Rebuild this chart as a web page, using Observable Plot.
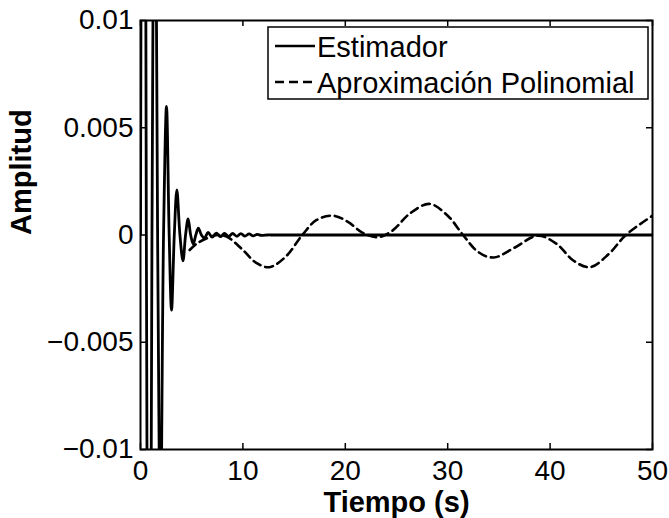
<!DOCTYPE html>
<html>
<head>
<meta charset="utf-8">
<script src="https://cdn.jsdelivr.net/npm/d3@7"></script>
<script src="https://cdn.jsdelivr.net/npm/@observablehq/plot@0.6"></script>
<style>
  html, body { margin: 0; padding: 0; background: white; }
  #chart { width: 669px; height: 518px; }
</style>
</head>
<body>
<div id="chart"></div>
<script>
// ---- data ----
const xTicks = [0, 10, 20, 30, 40, 50];
const yTicks = [-0.01, -0.005, 0, 0.005, 0.01];
const yTickLabels = ["\u22120.01", "\u22120.005", "0", "0.005", "0.01"];

const seriesNames = ["Estimador", "Aproximación Polinomial"];

// Estimador (solid): strongly oscillating start, decaying to zero
const estT = [0, 0.3, 0.57, 0.85, 1.12, 1.4, 1.67, 1.95, 2.25, 2.54, 2.8, 3.03, 3.3, 3.55, 3.85, 4.15, 4.4, 4.65, 4.9, 5.15, 5.4, 5.65, 5.95, 6.25, 6.6, 7.0, 7.4, 7.8, 8.2, 8.6, 9.0, 9.4, 9.8, 10.2, 10.6, 11.0, 11.4, 11.8, 12.4, 13, 20, 30, 40, 50];
const estY = [0, 0.05, 0, -0.035, 0, 0.022, 0, -0.014, 0, 0.006, 0, -0.0035, 0, 0.0021, 0, -0.0012, 0, 0.00075, 0, -0.00042, 0, 0.00032, 0, -0.00015, 0.00012, -0.0001, 0.00009, -0.00008, 0.00008, -0.00007, 0.00007, -0.00006, 0.00006, -0.00005, 0.00005, -0.00004, 0.00003, -0.00002, 0, 0, 0, 0, 0, 0];

// Aproximación Polinomial (dashed)
const polT = [4.8, 5.5, 6.5, 7.5, 8.5, 10, 11.3, 12.6, 14.2, 15.8, 17.2, 18.8, 20.3, 21.7, 23.2, 24.6, 26.3, 28.2, 30, 31.5, 33, 34.5, 36.5, 38.8, 40.6, 42.3, 43.9, 45.7, 47.4, 50];
const polY = [-0.0007, -0.0004, -0.00015, 0, -0.0001, -0.0007, -0.0013, -0.0015, -0.001, 0, 0.0007, 0.0009, 0.0006, 0.0001, -0.0001, 0.0002, 0.001, 0.00145, 0.0009, 0, -0.0008, -0.00105, -0.0006, -0.00003, -0.0004, -0.0012, -0.0015, -0.0009, 0, 0.0009];

const xLabel = "Tiempo (s)";
const yLabel = "Amplitud";

// ---- build tables ----
const est = estT.map((t, i) => ({t, y: estY[i]}));
const pol = polT.map((t, i) => ({t, y: polY[i]}));

const W = 669, H = 518;
const mL = 140, mR = 17, mT = 20, mB = 69;
const innerH = H - mT - mB;
const innerW = W - mL - mR;
const tick = 6;
const font = "Liberation Sans, Arial, Helvetica, sans-serif";

const chart = Plot.plot({
  width: W,
  height: H,
  marginLeft: mL,
  marginRight: mR,
  marginTop: mT,
  marginBottom: mB,
  style: {fontFamily: font, background: "white", color: "black"},
  x: {domain: [0, 50]},
  y: {domain: [-0.01, 0.01]},
  marks: [
    Plot.line(pol, {x: "t", y: "y", stroke: "black", strokeWidth: 2.6, strokeDasharray: "8,5", curve: "catmull-rom", clip: true}),
    Plot.line(est, {x: "t", y: "y", stroke: "black", strokeWidth: 2.8, curve: "catmull-rom", clip: true}),
    // inward ticks on all four sides
    Plot.tickX(xTicks, {x: d => d, insetTop: innerH - tick, stroke: "black", strokeWidth: 1.5}),
    Plot.tickX(xTicks, {x: d => d, insetBottom: innerH - tick, stroke: "black", strokeWidth: 1.5}),
    Plot.tickY(yTicks, {y: d => d, insetRight: innerW - tick, stroke: "black", strokeWidth: 1.5}),
    Plot.tickY(yTicks, {y: d => d, insetLeft: innerW - tick, stroke: "black", strokeWidth: 1.5}),
    Plot.frame({stroke: "black", strokeWidth: 2}),
    Plot.axisX(xTicks, {anchor: "bottom", tickSize: 0, tickPadding: 11, fontSize: 28, label: null, tickFormat: d => String(d)}),
    Plot.axisY(yTicks, {anchor: "left", tickSize: 0, tickPadding: 7, fontSize: 28, label: null, tickFormat: d => yTickLabels[yTicks.indexOf(d)]}),
    Plot.text([xLabel], {frameAnchor: "bottom", dy: 42, lineAnchor: "top", fontSize: 29, fontWeight: "bold", text: d => d}),
    Plot.text([yLabel], {frameAnchor: "left", dx: -119, rotate: -90, lineAnchor: "middle", fontSize: 29, fontWeight: "bold", text: d => d})
  ]
});

// ---- legend inside the plot (top right) ----
const svg = d3.select(chart);
const lg = svg.append("g").attr("class", "legend").attr("text-anchor", "start");
lg.append("rect")
  .attr("x", 268).attr("y", 27).attr("width", 380).attr("height", 72)
  .attr("fill", "white").attr("stroke", "black").attr("stroke-width", 1.5);
const rows = [
  {name: seriesNames[0], dash: null, ly: 46, ty: 57},
  {name: seriesNames[1], dash: "9,5", ly: 82, ty: 93}
];
rows.forEach(r => {
  lg.append("line")
    .attr("x1", 275).attr("x2", 315).attr("y1", r.ly).attr("y2", r.ly)
    .attr("stroke", "black").attr("stroke-width", 2.6)
    .attr("stroke-dasharray", r.dash);
  lg.append("text")
    .attr("x", 317).attr("y", r.ty)
    .attr("text-anchor", "start")
    .attr("font-size", 29).attr("font-family", font).attr("fill", "black")
    .text(r.name);
});

document.getElementById("chart").appendChild(chart);
</script>
</body>
</html>
